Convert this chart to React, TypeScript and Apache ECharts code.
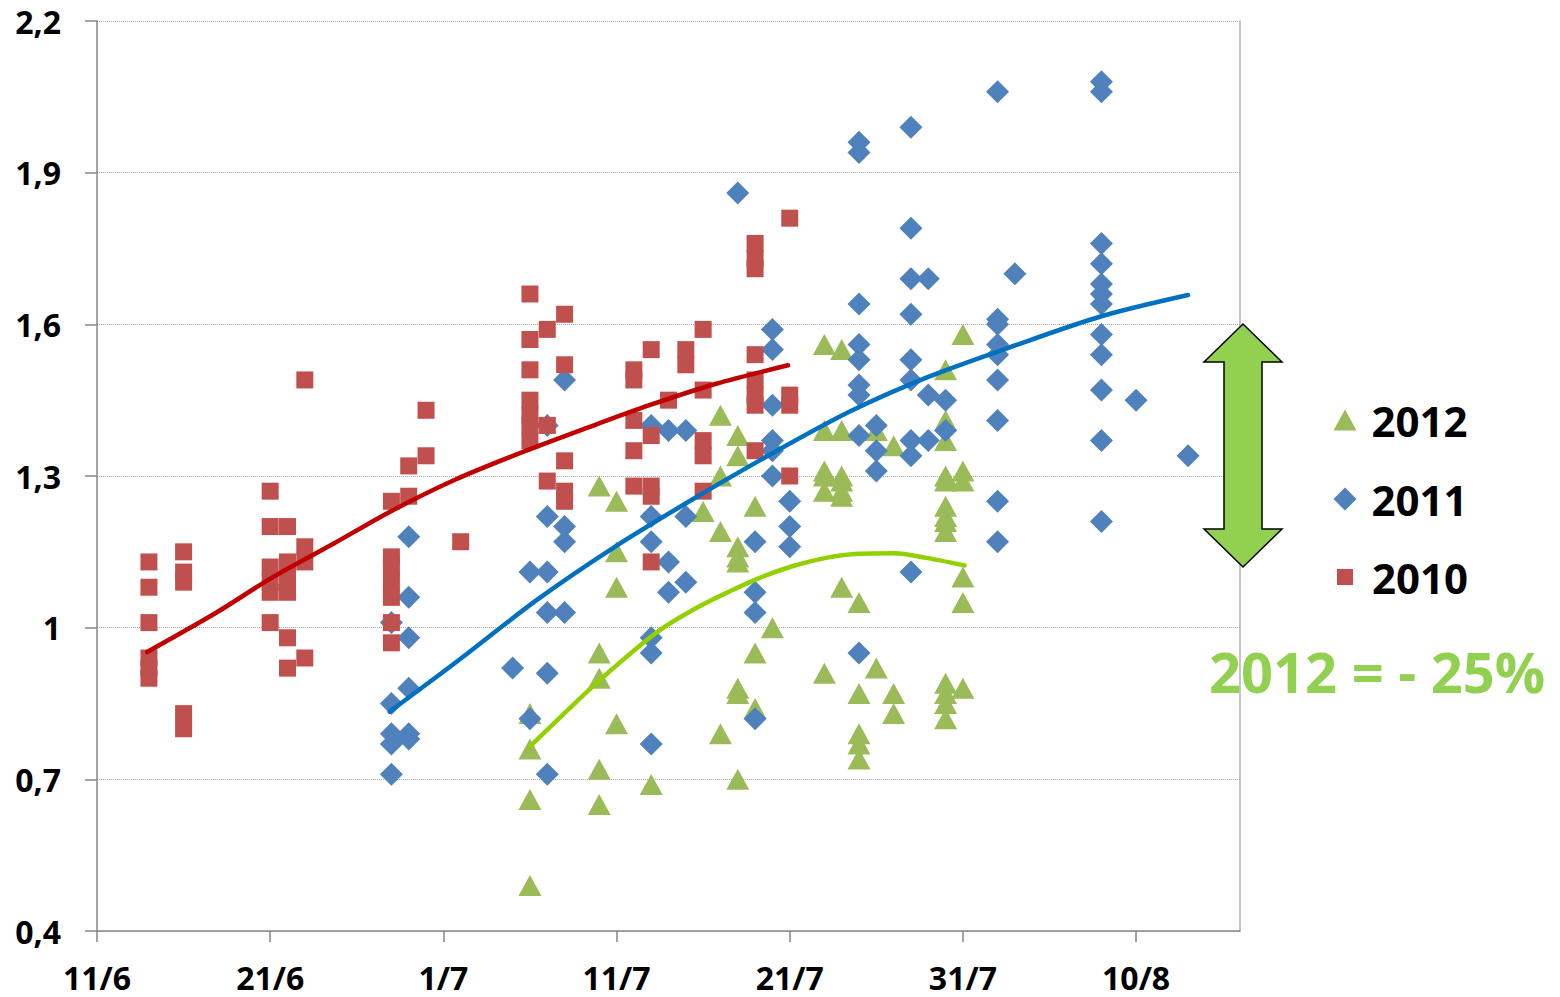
import React, { useEffect, useRef } from "react";
import * as echarts from "echarts";

// x is the number of days after 11/6 ; tick labels every 10 days
const xTickDays = [0, 10, 20, 30, 40, 50, 60];
const xTickLabels = ["11/6", "21/6", "1/7", "11/7", "21/7", "31/7", "10/8"];
const yTickLabels = ["0,4", "0,7", "1", "1,3", "1,6", "1,9", "2,2"];
const legendNames = ["2012", "2011", "2010"];

const data2010: number[][] = [
  [3, 1.13], [3, 1.08], [3, 1.01], [3, 0.94], [3, 0.92], [3, 0.9],
  [5, 1.15], [5, 1.11], [5, 1.09], [5, 0.83], [5, 0.8],
  [10, 1.27], [10, 1.2], [10, 1.12], [10, 1.09], [10, 1.07], [10, 1.01],
  [11, 1.2], [11, 1.13], [11, 1.1], [11, 1.07], [11, 0.98], [11, 0.92],
  [12, 1.49], [12, 1.16], [12, 1.13], [12, 0.94],
  [17, 1.25], [17, 1.14], [17, 1.12], [17, 1.09], [17, 1.06], [17, 1.01], [17, 0.97],
  [18, 1.32], [18, 1.26],
  [19, 1.43], [19, 1.34],
  [21, 1.17],
  [25, 1.66], [25, 1.57], [25, 1.51], [25, 1.45], [25, 1.42], [25, 1.4], [25, 1.37],
  [26, 1.59], [26, 1.4], [26, 1.29],
  [27, 1.62], [27, 1.52], [27, 1.33], [27, 1.27], [27, 1.25],
  [31, 1.51], [31, 1.49], [31, 1.41], [31, 1.35], [31, 1.28],
  [32, 1.55], [32, 1.38], [32, 1.28], [32, 1.26], [32, 1.13],
  [33, 1.45],
  [34, 1.55], [34, 1.52],
  [35, 1.59], [35, 1.47], [35, 1.37], [35, 1.34], [35, 1.27],
  [38, 1.76], [38, 1.73], [38, 1.71], [38, 1.54], [38, 1.49], [38, 1.46], [38, 1.44], [38, 1.35],
  [40, 1.81], [40, 1.46], [40, 1.44], [40, 1.3],
];

const data2011: number[][] = [
  [17, 1.01], [17, 0.85], [17, 0.79], [17, 0.77], [17, 0.71],
  [18, 1.18], [18, 1.06], [18, 0.98], [18, 0.88], [18, 0.79], [18, 0.78],
  [24, 0.92],
  [25, 1.11], [25, 0.82],
  [26, 1.4], [26, 1.22], [26, 1.11], [26, 1.03], [26, 0.91], [26, 0.71],
  [27, 1.49], [27, 1.2], [27, 1.17], [27, 1.03],
  [32, 1.4], [32, 1.22], [32, 1.17], [32, 0.98], [32, 0.95], [32, 0.77],
  [33, 1.39], [33, 1.13], [33, 1.07],
  [34, 1.39], [34, 1.22], [34, 1.09],
  [37, 1.86],
  [38, 1.17], [38, 1.07], [38, 1.03], [38, 0.82],
  [39, 1.59], [39, 1.55], [39, 1.44], [39, 1.37], [39, 1.35], [39, 1.3],
  [40, 1.25], [40, 1.2], [40, 1.16],
  [44, 1.96], [44, 1.94], [44, 1.64], [44, 1.56], [44, 1.53], [44, 1.48], [44, 1.46], [44, 1.38], [44, 0.95],
  [45, 1.4], [45, 1.35], [45, 1.31],
  [47, 1.99], [47, 1.79], [47, 1.69], [47, 1.62], [47, 1.53], [47, 1.49], [47, 1.37], [47, 1.34], [47, 1.11],
  [48, 1.69], [48, 1.46], [48, 1.37],
  [49, 1.45], [49, 1.39],
  [52, 2.06], [52, 1.61], [52, 1.6], [52, 1.56], [52, 1.54], [52, 1.49], [52, 1.41], [52, 1.25], [52, 1.17],
  [53, 1.7],
  [58, 2.08], [58, 2.06], [58, 1.76], [58, 1.72], [58, 1.68], [58, 1.66], [58, 1.64], [58, 1.58], [58, 1.54], [58, 1.47], [58, 1.37], [58, 1.21],
  [60, 1.45],
  [63, 1.34],
];

const data2012: number[][] = [
  [25, 0.83], [25, 0.76], [25, 0.66], [25, 0.49],
  [29, 1.28], [29, 0.95], [29, 0.9], [29, 0.72], [29, 0.65],
  [30, 1.25], [30, 1.15], [30, 1.08], [30, 0.81],
  [32, 0.69],
  [35, 1.23],
  [36, 1.42], [36, 1.3], [36, 1.19], [36, 0.79],
  [37, 1.38], [37, 1.34], [37, 1.16], [37, 1.14], [37, 1.13], [37, 0.88], [37, 0.87], [37, 0.7],
  [38, 1.24], [38, 0.95], [38, 0.84],
  [39, 1.0],
  [42, 1.56], [42, 1.39], [42, 1.31], [42, 1.3], [42, 1.27], [42, 0.91],
  [43, 1.55], [43, 1.39], [43, 1.3], [43, 1.29], [43, 1.27], [43, 1.26], [43, 1.08],
  [44, 1.05], [44, 0.87], [44, 0.79], [44, 0.77], [44, 0.74],
  [45, 1.39], [45, 0.92],
  [46, 1.36], [46, 0.87], [46, 0.83],
  [49, 1.51], [49, 1.41], [49, 1.37], [49, 1.3], [49, 1.29], [49, 1.24], [49, 1.22], [49, 1.21], [49, 1.19], [49, 0.89], [49, 0.87], [49, 0.85], [49, 0.82],
  [50, 1.58], [50, 1.31], [50, 1.29], [50, 1.1], [50, 1.05], [50, 0.88],
];

// trend curves
const trend2010: number[][] = [
  [2.9, 0.952], [6.9, 1.03], [10.2, 1.101], [13.7, 1.167], [16.9, 1.229], [20.7, 1.293],
  [24.4, 1.345], [28.2, 1.394], [31.9, 1.44], [35.7, 1.482], [39.9, 1.519],
];
const trend2011: number[][] = [
  [16.9, 0.834], [20.9, 0.936], [25.4, 1.055], [29.9, 1.16], [34.4, 1.254], [39, 1.345],
  [43.5, 1.428], [48, 1.496], [52.5, 1.552], [58, 1.616], [63, 1.658],
];
const trend2012: number[][] = [
  [25, 0.765], [26.7, 0.821], [28.6, 0.883], [30.6, 0.943], [32.5, 0.995], [34.4, 1.035],
  [36.3, 1.068], [38.3, 1.099], [40.2, 1.122], [42.1, 1.138], [44, 1.146], [46, 1.147],
  [47.9, 1.138], [50.1, 1.123],
];

const FONT = "'Open Sans', 'Liberation Sans', sans-serif";
const RED = "#C0504D";
const BLUE = "#4F81BD";
const GREEN = "#9BBB59";

function buildOption(): echarts.EChartsOption {
  const legendText = { fontFamily: FONT, fontWeight: "bold" as const, fontSize: 42, color: "#000", lineHeight: 44 };
  const trendBase = { type: "line" as const, smooth: 0.3, showSymbol: false, symbol: "none", z: 5, silent: true };
  return {
    animation: false,
    backgroundColor: "#fff",
    grid: { left: 97, top: 21, right: 320, bottom: 66 },
    xAxis: {
      type: "value",
      min: 0,
      max: 66,
      interval: 10,
      axisLine: { show: true, lineStyle: { color: "#868686", width: 1.5 } },
      axisTick: { show: true, length: 11, lineStyle: { color: "#868686", width: 1.5 }, customValues: xTickDays },
      axisLabel: {
        customValues: xTickDays,
        margin: 30,
        fontFamily: FONT,
        fontWeight: "bold",
        fontSize: 32,
        color: "#000",
        formatter: (v: number) => {
          const i = xTickDays.indexOf(Math.round(v));
          return i >= 0 ? xTickLabels[i] : "";
        },
      },
      splitLine: { show: false },
    },
    yAxis: [
      {
        type: "value",
        min: 0.4,
        max: 2.2,
        interval: 0.3,
        axisLine: { show: true, lineStyle: { color: "#868686", width: 1.5 } },
        axisTick: { show: true, length: 12, lineStyle: { color: "#868686", width: 1.5 } },
        axisLabel: {
          margin: 36,
          fontFamily: FONT,
          fontWeight: "bold",
          fontSize: 32,
          color: "#000",
          formatter: (v: number) => {
            const i = Math.round((v - 0.4) / 0.3);
            return yTickLabels[i] ?? "";
          },
        },
        splitLine: { show: true, lineStyle: { color: "#A6A6A6", type: "dotted", width: 1 } },
      },
      {
        type: "value",
        position: "right",
        min: 0.4,
        max: 2.2,
        axisLine: { show: true, lineStyle: { color: "#B0B0B0", width: 1.5 } },
        axisTick: { show: false },
        axisLabel: { show: false },
        splitLine: { show: false },
      },
    ],
    legend: [
      {
        data: [{ name: legendNames[0], icon: "triangle" }],
        left: 1333.5,
        top: 398,
        orient: "vertical",
        padding: 0,
        itemWidth: 23,
        itemHeight: 21,
        selectedMode: false,
        textStyle: { ...legendText, padding: [0, 0, 0, 10] },
      },
      {
        data: [{ name: legendNames[1], icon: "diamond" }],
        left: 1333.5,
        top: 477,
        orient: "vertical",
        padding: 0,
        itemWidth: 23,
        itemHeight: 23,
        selectedMode: false,
        textStyle: { ...legendText, padding: [0, 0, 0, 10] },
      },
      {
        data: [{ name: legendNames[2], icon: "rect" }],
        left: 1337,
        top: 555,
        orient: "vertical",
        padding: 0,
        itemWidth: 16,
        itemHeight: 16,
        selectedMode: false,
        textStyle: { ...legendText, padding: [0, 0, 0, 14] },
      },
    ],
    series: [
      {
        name: "2012",
        type: "scatter",
        symbol: "triangle",
        symbolSize: [23, 21],
        itemStyle: { color: GREEN, opacity: 1 },
        data: data2012,
        z: 2,
      },
      {
        name: "2011",
        type: "scatter",
        symbol: "diamond",
        symbolSize: [23, 23],
        itemStyle: { color: BLUE, opacity: 1 },
        data: data2011,
        z: 3,
      },
      {
        name: "2010",
        type: "scatter",
        symbol: "rect",
        symbolSize: 17,
        itemStyle: { color: RED, opacity: 1 },
        data: data2010,
        z: 4,
      },
      { ...trendBase, name: "Trend 2010", data: trend2010, lineStyle: { color: "#C00000", width: 4.5, cap: "round" } },
      { ...trendBase, name: "Trend 2011", data: trend2011, lineStyle: { color: "#0070C0", width: 4.5, cap: "round" } },
      { ...trendBase, name: "Trend 2012", data: trend2012, lineStyle: { color: "#92D000", width: 4.5, cap: "round" } },
    ],
    graphic: [
      {
        type: "polygon",
        shape: {
          points: [
            [1243, 324], [1282, 362], [1262, 362], [1262, 529], [1282, 529],
            [1243, 567], [1204, 529], [1224, 529], [1224, 362], [1204, 362],
          ],
        },
        style: { fill: "#92D050", stroke: "#000", lineWidth: 1.5 },
        z: 10,
      },
      {
        type: "text",
        x: 1209,
        y: 671,
        style: {
          text: "2012 = - 25%",
          fill: "#92D050",
          fontFamily: FONT,
          fontWeight: "bold",
          fontSize: 56,
          verticalAlign: "middle",
          align: "left",
        },
        z: 10,
      },
    ],
  };
}

export default function App() {
  const ref = useRef<HTMLDivElement>(null);
  useEffect(() => {
    if (!ref.current) return;
    const chart = echarts.init(ref.current, null, { renderer: "svg" });
    chart.setOption(buildOption());
    return () => chart.dispose();
  }, []);
  return (
    <div
      ref={ref}
      style={{ position: "fixed", left: 0, top: 0, width: 1560, height: 997, background: "#fff" }}
    />
  );
}
